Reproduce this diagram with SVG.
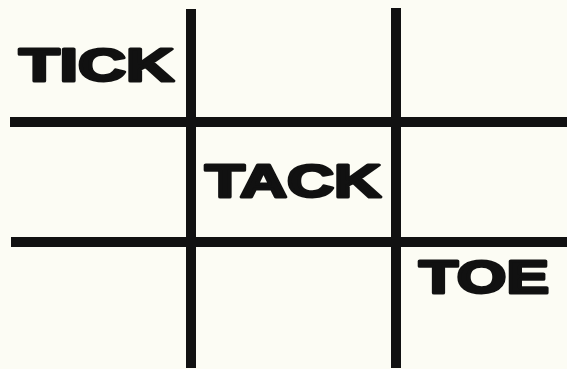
<svg xmlns="http://www.w3.org/2000/svg" width="567" height="369" viewBox="0 0 567 369">
<style>
.g{stroke:#111;stroke-width:10;stroke-linecap:butt}
.t{font-family:"Liberation Sans",Arial,sans-serif;font-weight:bold;font-size:47px;fill:#111;stroke:#111;stroke-width:3;stroke-linejoin:round}
</style>
<rect width="567" height="369" fill="#fcfcf4"/>
<g id="grid">
<line class="g" x1="191" y1="9" x2="191" y2="368"/>
<line class="g" x1="396" y1="8" x2="396" y2="368"/>
<line class="g" x1="10" y1="122" x2="567" y2="122"/>
<line class="g" x1="11" y1="242" x2="567" y2="242"/>
</g>
<g id="tick"><text class="t" x="19" y="81" textLength="155" lengthAdjust="spacingAndGlyphs">TICK</text></g>
<g id="tack"><text class="t" x="205" y="197" textLength="176" lengthAdjust="spacingAndGlyphs">TACK</text></g>
<g id="toe"><text class="t" x="419" y="293" textLength="130" lengthAdjust="spacingAndGlyphs">TOE</text></g>
</svg>
